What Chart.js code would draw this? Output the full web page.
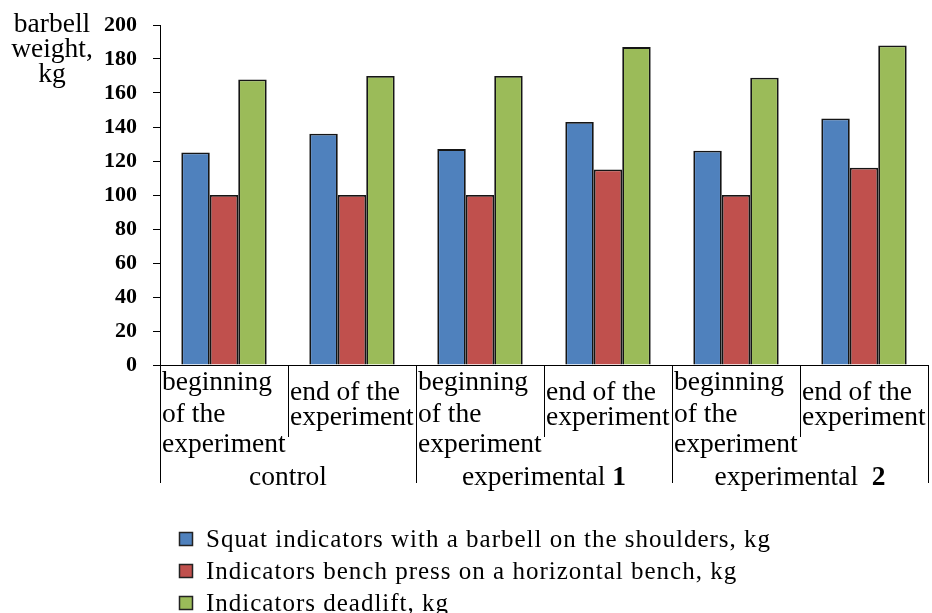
<!DOCTYPE html>
<html>
<head>
<meta charset="utf-8">
<title>Barbell weight</title>
<script src="https://cdn.jsdelivr.net/npm/chart.js@4.4.1/dist/chart.umd.min.js"></script>
<style>
  html, body { margin: 0; padding: 0; background: #fff; }
  #wrap { width: 932px; height: 613px; }
</style>
</head>
<body>
<div id="wrap"><canvas id="barChart" width="932" height="613"></canvas></div>
<script>
// data
const categories = [
  ['beginning', 'of the', 'experiment'],
  ['end of the', 'experiment'],
  ['beginning', 'of the', 'experiment'],
  ['end of the', 'experiment'],
  ['beginning', 'of the', 'experiment'],
  ['end of the', 'experiment']
];
const groups = ['control', 'experimental 1', 'experimental  2'];
const seriesNames = [
  'Squat indicators with a barbell on the shoulders, kg',
  'Indicators bench press on a horizontal bench, kg',
  'Indicators deadlift, kg'
];
const squat = [125, 136, 127, 143, 126, 145];
const bench = [100, 100, 100, 115, 100, 116];
const deadlift = [168, 170, 170, 187, 169, 188];
const yTitle = ['barbell', 'weight,', 'kg'];

const FONT = "'Liberation Serif', 'Times New Roman', serif";
const colors = ['#4F81BD', '#C0504D', '#9BBB59'];

// two level category axis + y title + legend list
const groupAxis = {
  id: 'groupAxis',
  afterDraw(chart) {
    const { ctx, chartArea, scales: { x } } = chart;
    const base = chartArea.bottom;
    const n = chart.data.labels.length;
    const per = n / groups.length;
    const edge = i => i === 0 ? chartArea.left : i === n ? chartArea.right
      : (x.getPixelForValue(i - 1) + x.getPixelForValue(i)) / 2;

    ctx.save();
    ctx.strokeStyle = '#000';
    ctx.lineWidth = 1;
    for (let i = 0; i <= n; i++) {
      const px = Math.round(edge(i)) + 0.5;
      const len = i % per === 0 ? 118 : 72;
      ctx.beginPath();
      ctx.moveTo(px, base);
      ctx.lineTo(px, base + len);
      ctx.stroke();
    }

    ctx.fillStyle = '#000';
    ctx.textAlign = 'left';
    ctx.textBaseline = 'alphabetic';
    ctx.font = `27.5px ${FONT}`;
    chart.data.labels.forEach((lines, i) => {
      const left = edge(i) + 2;
      const offs = lines.length === 3 ? [25, 57, 87] : [35, 60];
      lines.forEach((t, k) => ctx.fillText(t, left, base + offs[k]));
    });

    // group names, trailing number is bold in the original
    groups.forEach((g, j) => {
      const cx = (edge(j * per) + edge((j + 1) * per)) / 2;
      const m = g.match(/^(.*?)(\d*)$/);
      ctx.font = `27.5px ${FONT}`;
      const w1 = ctx.measureText(m[1]).width;
      ctx.font = `bold 27.5px ${FONT}`;
      const w2 = ctx.measureText(m[2]).width;
      const start = cx - (w1 + w2) / 2;
      ctx.font = `27.5px ${FONT}`;
      ctx.fillText(m[1], start, base + 120);
      ctx.font = `bold 27.5px ${FONT}`;
      ctx.fillText(m[2], start + w1, base + 120);
    });

    // y title, horizontal at top left
    ctx.font = `27.5px ${FONT}`;
    ctx.textAlign = 'center';
    yTitle.forEach((t, k) => ctx.fillText(t, 52, 32 + k * 25));

    // legend as a vertical list
    ctx.textAlign = 'left';
    ctx.textBaseline = 'middle';
    ctx.font = `25px ${FONT}`;
    ctx.letterSpacing = '1px';
    chart.data.datasets.forEach((ds, k) => {
      const cy = 539 + k * 32;
      ctx.fillStyle = ds.backgroundColor;
      ctx.fillRect(179.5, cy - 6.5, 13, 13);
      ctx.strokeStyle = '#222';
      ctx.lineWidth = 1.5;
      ctx.strokeRect(179.5, cy - 6.5, 13, 13);
      ctx.fillStyle = '#000';
      ctx.fillText(ds.label, 206, cy + 1);
    });
    ctx.restore();
  }
};

const ctx = document.getElementById('barChart').getContext('2d');
new Chart(ctx, {
  type: 'bar',
  data: {
    labels: categories,
    datasets: [squat, bench, deadlift].map((values, k) => ({
      label: seriesNames[k],
      data: values,
      backgroundColor: colors[k],
      borderColor: '#151515',
      borderWidth: 1.8,
      categoryPercentage: 0.667,
      barPercentage: 1
    }))
  },
  options: {
    responsive: false,
    animation: false,
    devicePixelRatio: 1,
    layout: { padding: { top: 25, right: 4, bottom: 248, left: 0 } },
    plugins: {
      legend: { display: false },
      tooltip: { enabled: false }
    },
    scales: {
      x: {
        ticks: { display: false },
        grid: { display: false },
        border: { display: true, color: '#000', width: 1 },
        afterFit: s => { s.height = 0; }
      },
      y: {
        min: 0,
        max: 200,
        ticks: {
          stepSize: 20,
          color: '#000',
          padding: 16,
          font: { family: FONT, size: 22, weight: 'bold' }
        },
        grid: { drawOnChartArea: false, drawTicks: true, tickLength: 7, color: '#000' },
        border: { display: true, color: '#000', width: 1 },
        afterFit: s => {
          s.width = 160;
          s.paddingTop = 12;
        }
      }
    }
  },
  plugins: [groupAxis]
});
</script>
</body>
</html>
